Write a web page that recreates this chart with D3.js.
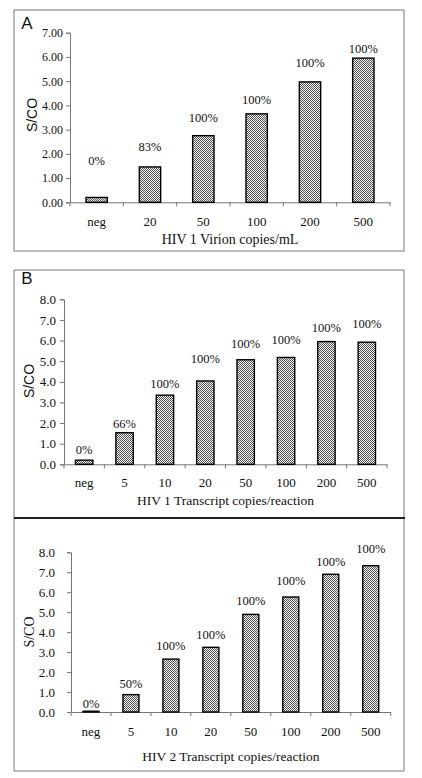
<!DOCTYPE html>
<html><head><meta charset="utf-8">
<script src="https://cdn.jsdelivr.net/npm/d3@7"></script>
<style>body{margin:0;background:#fff}</style></head>
<body><svg id="c" width="422" height="778"></svg>
<script>
// ---- data ----
const catsA = ["neg","20","50","100","200","500"];
const valsA = [0.20,1.46,2.75,3.65,4.97,5.95];
const pctA  = ["0%","83%","100%","100%","100%","100%"];
const pctLevelA = [1.72,2.30,3.50,4.22,5.76,6.36];
const ticksA = [0,1,2,3,4,5,6,7];

const catsB = ["neg","5","10","20","50","100","200","500"];
const valsB = [0.20,1.53,3.35,4.04,5.07,5.18,5.95,5.92];
const pctB  = ["0%","66%","100%","100%","100%","100%","100%","100%"];
const pctLevelB = [0.71,1.99,3.93,5.10,5.83,6.03,6.65,6.80];
const ticksB = [0,1,2,3,4,5,6,7,8];

const catsC = ["neg","5","10","20","50","100","200","500"];
const valsC = [0.04,0.87,2.65,3.24,4.89,5.76,6.90,7.33];
const pctC  = ["0%","50%","100%","100%","100%","100%","100%","100%"];
const pctLevelC = [0.40,1.40,3.32,3.87,5.58,6.56,7.53,8.18];
const ticksC = [0,1,2,3,4,5,6,7,8];

const titleA = "HIV 1 Virion copies/mL";
const titleB = "HIV 1 Transcript copies/reaction";
const titleC = "HIV 2 Transcript copies/reaction";

// ---- drawing ----
const svg = d3.select("#c");
const defs = svg.append("defs");
const pat = defs.append("pattern").attr("id","chk").attr("patternUnits","userSpaceOnUse")
  .attr("width",2).attr("height",2);
pat.append("rect").attr("width",2).attr("height",2).attr("fill","#f2f2f2");
pat.append("rect").attr("width",1).attr("height",1).attr("fill","#555");
pat.append("rect").attr("x",1).attr("y",1).attr("width",1).attr("height",1).attr("fill","#555");

// frames
svg.append("rect").attr("x",14).attr("y",10).attr("width",390).attr("height",241)
  .attr("fill","none").attr("stroke","#777").attr("stroke-width",1);
svg.append("path").attr("d","M14,518V270H404V518").attr("fill","none").attr("stroke","#777");
svg.append("path").attr("d","M14,518V771H404V518").attr("fill","none").attr("stroke","#777");
svg.append("line").attr("x1",14).attr("x2",405).attr("y1",518).attr("y2",518)
  .attr("stroke","#222").attr("stroke-width",2);

const serif = "Liberation Serif, Times New Roman, serif";
const sans = "Liberation Sans, Arial, sans-serif";

function panel(o){
  const g = svg.append("g");
  const x = d3.scaleBand().domain(o.cats).range([o.x0,o.x1]).paddingInner(o.pad).paddingOuter(o.pad/2);
  const y = d3.scaleLinear().domain([0,o.ymax]).range([o.y0,o.y1]);
  const ya = g.append("g").attr("transform",`translate(${o.x0},0)`)
    .call(d3.axisLeft(y).tickValues(o.ticks).tickFormat(d3.format(o.fmt)).tickSize(4).tickPadding(o.ypad));
  const xa = g.append("g").attr("transform",`translate(0,${o.y0})`)
    .call(d3.axisBottom(x).tickSize(0).tickPadding(o.xpad));
  [ya,xa].forEach(a=>{
    a.attr("font-family",serif).attr("font-size",13);
    a.select(".domain").attr("stroke","#777");
    a.selectAll(".tick line").attr("stroke","#777");
    a.selectAll("text").attr("fill","#111");
  });
  ya.attr("font-size",o.yfs);
  const bounds = o.cats.map(c=>x(c)-x.step()*o.pad/2).concat([o.x1]);
  g.selectAll(".bt").data(bounds).join("line").attr("x1",d=>d).attr("x2",d=>d)
    .attr("y1",o.y0).attr("y2",o.y0+4).attr("stroke","#777");
  g.selectAll(".bar").data(o.vals).join("rect")
    .attr("x",(d,i)=>x(o.cats[i])).attr("width",x.bandwidth())
    .attr("y",d=>y(d)).attr("height",d=>o.y0-y(d))
    .attr("fill","url(#chk)").attr("stroke","#000").attr("stroke-width",1.4);
  g.selectAll(".pl").data(o.pct).join("text")
    .attr("x",(d,i)=>x(o.cats[i])+x.bandwidth()/2).attr("y",(d,i)=>y(o.lvl[i]))
    .attr("dy","0.35em").attr("text-anchor","middle")
    .attr("font-family",serif).attr("font-size",12.5).attr("fill","#111").text(d=>d);
  g.append("text").attr("x",(o.x0+o.x1)/2).attr("y",o.titleY).attr("dy","0.35em")
    .attr("text-anchor","middle").attr("font-family",serif).attr("font-size",o.tfs)
    .attr("fill","#111").text(o.title);
  g.append("text").attr("transform",`translate(${o.ylx},${o.yly}) rotate(-90)`)
    .attr("dy","0.35em").attr("text-anchor","middle").attr("font-family",o.ylf)
    .attr("font-size",14).attr("fill","#111").text("S/CO");
  if(o.letter){
    g.append("text").attr("x",o.lx).attr("y",o.ly).attr("dy","0.35em").attr("text-anchor","middle")
      .attr("font-family",sans).attr("font-size",17).attr("fill","#111").text(o.letter);
  }
}

panel({cats:catsA,vals:valsA,pct:pctA,lvl:pctLevelA,ticks:ticksA,fmt:".2f",ymax:7,
  x0:70,x1:390,y0:202.3,y1:32.7,pad:0.6,ypad:3,xpad:14,yfs:12,
  title:titleA,titleY:239,tfs:14,ylx:32,yly:115,ylf:sans,letter:"A",lx:27,ly:23});
panel({cats:catsB,vals:valsB,pct:pctB,lvl:pctLevelB,ticks:ticksB,fmt:".1f",ymax:8,
  x0:64,x1:387,y0:464.3,y1:299.3,pad:0.57,ypad:4,xpad:13,yfs:13,
  title:titleB,titleY:500,tfs:13.5,ylx:29,yly:381,ylf:sans,letter:"B",lx:27,ly:278});
panel({cats:catsC,vals:valsC,pct:pctC,lvl:pctLevelC,ticks:ticksC,fmt:".1f",ymax:8,
  x0:71,x1:390.7,y0:712,y1:552.3,pad:0.6,ypad:12,xpad:15,yfs:13,
  title:titleC,titleY:756,tfs:13.5,ylx:29.5,yly:632,ylf:serif,letter:null});
</script>
</body></html>
